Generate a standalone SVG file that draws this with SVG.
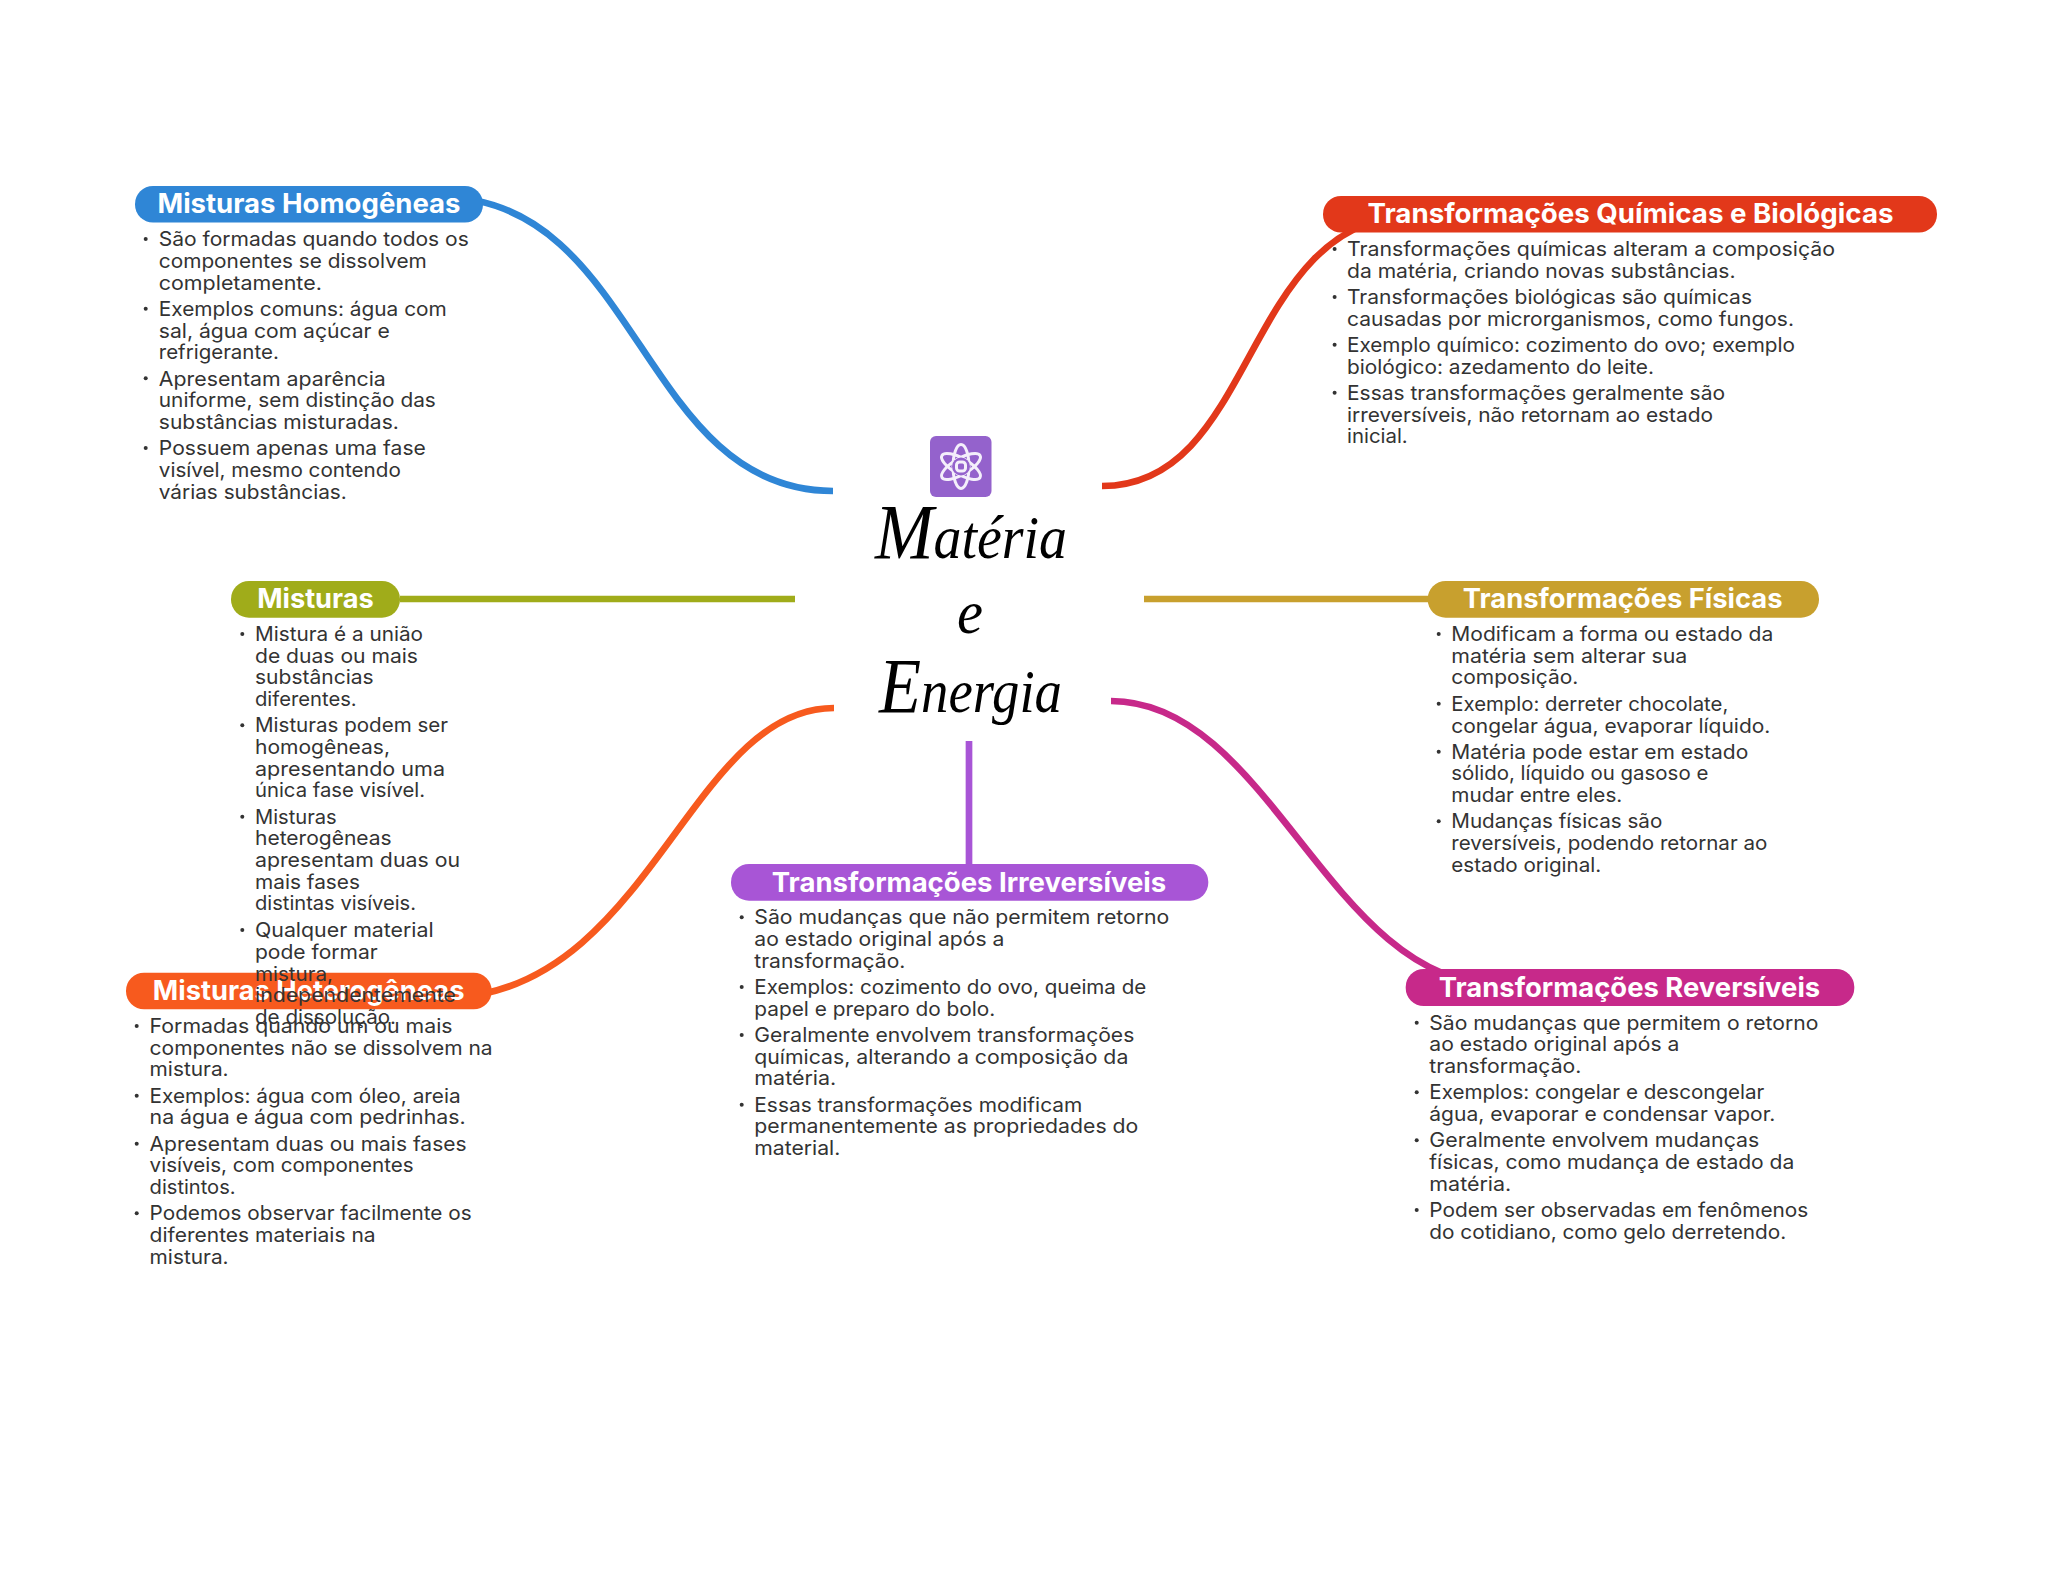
<svg xmlns="http://www.w3.org/2000/svg" width="2048" height="1569" viewBox="0 0 2048 1569">
<style>
.c{fill:none;stroke-width:6.7}
.t{font-family:"Inter","Liberation Sans",sans-serif;font-weight:700;font-size:27px;fill:#fff;transform:translate(-.5px,1px)}
.b{font-family:"Inter","Liberation Sans",sans-serif;font-weight:400;font-size:20px;fill:#333;transform:translate(-.7px,.3px)}
.d{fill:#333}
.s{font-family:"Liberation Serif",serif;font-style:italic;fill:#000}
.p{fill:none;stroke:#f4effb;stroke-width:3}
</style>
<rect width="2048" height="1569" fill="#fff"/>
<g id="connectors">
<path class="c" stroke="#2f86d6" d="M440,197 C640,197 640,491 833,491"/>
<path class="c" stroke="#e2381a" d="M1102,486 C1260,486 1240,214 1420,214"/>
<path class="c" stroke="#a0ac1a" d="M400,599 H795"/>
<path class="c" stroke="#c8a02e" d="M1144,599 H1430"/>
<path class="c" stroke="#a855d6" d="M969,741 V866"/>
<path class="c" stroke="#f75a1e" d="M834,708 C690,708 650,990 450,998"/>
<path class="c" stroke="#c7298a" d="M1111,701 C1270,701 1330,985 1500,985"/>
</g>
<g id="center">
<rect x="930" y="436" width="61.500" height="61" rx="6" fill="#9462cc"/>
<ellipse class="p" cx="961" cy="466.500" rx="8" ry="22"/>
<ellipse class="p" cx="961" cy="466.500" rx="8" ry="22" transform="rotate(60 961 466.500)"/>
<ellipse class="p" cx="961" cy="466.500" rx="8" ry="22" transform="rotate(120 961 466.500)"/>
<circle cx="961" cy="466.500" r="9" fill="#9462cc"/>
<rect class="p" x="956.500" y="462" width="9" height="9" rx="3"/>
<text class="s" x="875" y="558" textLength="192" lengthAdjust="spacingAndGlyphs" font-size="62"><tspan font-size="78">M</tspan>atéria</text>
<text class="s" x="957" y="633" textLength="26" lengthAdjust="spacingAndGlyphs" font-size="62">e</text>
<text class="s" x="879" y="712" textLength="183" lengthAdjust="spacingAndGlyphs" font-size="62"><tspan font-size="78">E</tspan>nergia</text>
</g>
<g id="homogeneas">
<rect x="135" y="186" width="348" height="36.500" rx="18" fill="#2f86d6"/>
<text class="t" x="158" y="212.300" textLength="303" lengthAdjust="spacingAndGlyphs">Misturas Homogêneas</text>
<circle class="d" cx="145.700" cy="239" r="2"/><circle class="d" cx="145.700" cy="308.700" r="2"/><circle class="d" cx="145.700" cy="378.300" r="2"/><circle class="d" cx="145.700" cy="448" r="2"/>
<text class="b" x="159.500" y="246" textLength="310" lengthAdjust="spacingAndGlyphs">São formadas quando todos os</text>
<text class="b" x="159.500" y="267.700" textLength="268" lengthAdjust="spacingAndGlyphs">componentes se dissolvem</text>
<text class="b" x="159.500" y="289.300" textLength="163" lengthAdjust="spacingAndGlyphs">completamente.</text>
<text class="b" x="159.500" y="315.700" textLength="288" lengthAdjust="spacingAndGlyphs">Exemplos comuns: água com</text>
<text class="b" x="159.500" y="337.300" textLength="231" lengthAdjust="spacingAndGlyphs">sal, água com açúcar e</text>
<text class="b" x="159.500" y="359" textLength="120" lengthAdjust="spacingAndGlyphs">refrigerante.</text>
<text class="b" x="159.500" y="385.300" textLength="227" lengthAdjust="spacingAndGlyphs">Apresentam aparência</text>
<text class="b" x="159.500" y="407" textLength="277" lengthAdjust="spacingAndGlyphs">uniforme, sem distinção das</text>
<text class="b" x="159.500" y="428.700" textLength="240" lengthAdjust="spacingAndGlyphs">substâncias misturadas.</text>
<text class="b" x="159.500" y="455" textLength="267" lengthAdjust="spacingAndGlyphs">Possuem apenas uma fase</text>
<text class="b" x="159.500" y="476.700" textLength="242" lengthAdjust="spacingAndGlyphs">visível, mesmo contendo</text>
<text class="b" x="159.500" y="498.300" textLength="188" lengthAdjust="spacingAndGlyphs">várias substâncias.</text>
</g>
<g id="quimicas">
<rect x="1323" y="196" width="614" height="36.500" rx="18" fill="#e2381a"/>
<text class="t" x="1368" y="222.300" textLength="526" lengthAdjust="spacingAndGlyphs">Transformações Químicas e Biológicas</text>
<circle class="d" cx="1334.600" cy="249" r="2"/><circle class="d" cx="1334.600" cy="297" r="2"/><circle class="d" cx="1334.600" cy="344.700" r="2"/><circle class="d" cx="1334.600" cy="392.700" r="2"/>
<text class="b" x="1347.700" y="256" textLength="488" lengthAdjust="spacingAndGlyphs">Transformações químicas alteram a composição</text>
<text class="b" x="1347.700" y="277.700" textLength="388.500" lengthAdjust="spacingAndGlyphs">da matéria, criando novas substâncias.</text>
<text class="b" x="1347.700" y="304" textLength="405" lengthAdjust="spacingAndGlyphs">Transformações biológicas são químicas</text>
<text class="b" x="1347.700" y="325.700" textLength="447" lengthAdjust="spacingAndGlyphs">causadas por microrganismos, como fungos.</text>
<text class="b" x="1347.700" y="351.700" textLength="448" lengthAdjust="spacingAndGlyphs">Exemplo químico: cozimento do ovo; exemplo</text>
<text class="b" x="1347.700" y="373.300" textLength="307" lengthAdjust="spacingAndGlyphs">biológico: azedamento do leite.</text>
<text class="b" x="1347.700" y="399.700" textLength="378" lengthAdjust="spacingAndGlyphs">Essas transformações geralmente são</text>
<text class="b" x="1347.700" y="421.300" textLength="366" lengthAdjust="spacingAndGlyphs">irreversíveis, não retornam ao estado</text>
<text class="b" x="1347.700" y="443" textLength="60.700" lengthAdjust="spacingAndGlyphs">inicial.</text>
</g>
<g id="fisicas">
<rect x="1427.700" y="581" width="391.300" height="36.700" rx="18" fill="#c8a02e"/>
<text class="t" x="1463.300" y="607.300" textLength="319.700" lengthAdjust="spacingAndGlyphs">Transformações Físicas</text>
<circle class="d" cx="1438.700" cy="634" r="2"/><circle class="d" cx="1438.700" cy="703.700" r="2"/><circle class="d" cx="1438.700" cy="751.700" r="2"/><circle class="d" cx="1438.700" cy="821.300" r="2"/>
<text class="b" x="1452" y="640.700" textLength="322" lengthAdjust="spacingAndGlyphs">Modificam a forma ou estado da</text>
<text class="b" x="1452" y="662.300" textLength="236" lengthAdjust="spacingAndGlyphs">matéria sem alterar sua</text>
<text class="b" x="1452" y="684" textLength="127" lengthAdjust="spacingAndGlyphs">composição.</text>
<text class="b" x="1452" y="710.300" textLength="277" lengthAdjust="spacingAndGlyphs">Exemplo: derreter chocolate,</text>
<text class="b" x="1452" y="732.300" textLength="319" lengthAdjust="spacingAndGlyphs">congelar água, evaporar líquido.</text>
<text class="b" x="1452" y="758.300" textLength="297" lengthAdjust="spacingAndGlyphs">Matéria pode estar em estado</text>
<text class="b" x="1452" y="780" textLength="257" lengthAdjust="spacingAndGlyphs">sólido, líquido ou gasoso e</text>
<text class="b" x="1452" y="801.700" textLength="171" lengthAdjust="spacingAndGlyphs">mudar entre eles.</text>
<text class="b" x="1452" y="828" textLength="211" lengthAdjust="spacingAndGlyphs">Mudanças físicas são</text>
<text class="b" x="1452" y="850" textLength="316" lengthAdjust="spacingAndGlyphs">reversíveis, podendo retornar ao</text>
<text class="b" x="1452" y="871.700" textLength="150" lengthAdjust="spacingAndGlyphs">estado original.</text>
</g>
<g id="reversiveis">
<rect x="1405.700" y="969" width="448.600" height="37" rx="18" fill="#c7298a"/>
<text class="t" x="1439.300" y="995.700" textLength="381.400" lengthAdjust="spacingAndGlyphs">Transformações Reversíveis</text>
<circle class="d" cx="1416.700" cy="1022.700" r="2"/><circle class="d" cx="1416.700" cy="1092.300" r="2"/><circle class="d" cx="1416.700" cy="1140.300" r="2"/><circle class="d" cx="1416.700" cy="1210" r="2"/>
<text class="b" x="1430" y="1029.300" textLength="389" lengthAdjust="spacingAndGlyphs">São mudanças que permitem o retorno</text>
<text class="b" x="1430" y="1051" textLength="250" lengthAdjust="spacingAndGlyphs">ao estado original após a</text>
<text class="b" x="1430" y="1072.700" textLength="152" lengthAdjust="spacingAndGlyphs">transformação.</text>
<text class="b" x="1430" y="1099" textLength="335" lengthAdjust="spacingAndGlyphs">Exemplos: congelar e descongelar</text>
<text class="b" x="1430" y="1120.700" textLength="346" lengthAdjust="spacingAndGlyphs">água, evaporar e condensar vapor.</text>
<text class="b" x="1430" y="1147" textLength="330" lengthAdjust="spacingAndGlyphs">Geralmente envolvem mudanças</text>
<text class="b" x="1430" y="1168.700" textLength="365" lengthAdjust="spacingAndGlyphs">físicas, como mudança de estado da</text>
<text class="b" x="1430" y="1190.300" textLength="82" lengthAdjust="spacingAndGlyphs">matéria.</text>
<text class="b" x="1430" y="1216.700" textLength="379" lengthAdjust="spacingAndGlyphs">Podem ser observadas em fenômenos</text>
<text class="b" x="1430" y="1238.300" textLength="357" lengthAdjust="spacingAndGlyphs">do cotidiano, como gelo derretendo.</text>
</g>
<g id="irreversiveis">
<rect x="731" y="864" width="477.300" height="36.700" rx="18" fill="#a855d6"/>
<text class="t" x="772.300" y="890.700" textLength="394.400" lengthAdjust="spacingAndGlyphs">Transformações Irreversíveis</text>
<circle class="d" cx="741.700" cy="917.300" r="2"/><circle class="d" cx="741.700" cy="987" r="2"/><circle class="d" cx="741.700" cy="1035" r="2"/><circle class="d" cx="741.700" cy="1104.700" r="2"/>
<text class="b" x="755" y="924" textLength="415" lengthAdjust="spacingAndGlyphs">São mudanças que não permitem retorno</text>
<text class="b" x="755" y="945.700" textLength="250" lengthAdjust="spacingAndGlyphs">ao estado original após a</text>
<text class="b" x="755" y="967.300" textLength="151" lengthAdjust="spacingAndGlyphs">transformação.</text>
<text class="b" x="755" y="993.700" textLength="392" lengthAdjust="spacingAndGlyphs">Exemplos: cozimento do ovo, queima de</text>
<text class="b" x="755" y="1015.300" textLength="241" lengthAdjust="spacingAndGlyphs">papel e preparo do bolo.</text>
<text class="b" x="755" y="1041.700" textLength="380" lengthAdjust="spacingAndGlyphs">Geralmente envolvem transformações</text>
<text class="b" x="755" y="1063.300" textLength="374" lengthAdjust="spacingAndGlyphs">químicas, alterando a composição da</text>
<text class="b" x="755" y="1085" textLength="82" lengthAdjust="spacingAndGlyphs">matéria.</text>
<text class="b" x="755" y="1111.300" textLength="328" lengthAdjust="spacingAndGlyphs">Essas transformações modificam</text>
<text class="b" x="755" y="1133" textLength="384" lengthAdjust="spacingAndGlyphs">permanentemente as propriedades do</text>
<text class="b" x="755" y="1154.700" textLength="86" lengthAdjust="spacingAndGlyphs">material.</text>
</g>
<g id="heterogeneas">
<rect x="126" y="972.700" width="365.700" height="36.600" rx="18" fill="#f75a1e"/>
<text class="t" x="153.300" y="999.300" textLength="311.700" lengthAdjust="spacingAndGlyphs">Misturas Heterogêneas</text>
<circle class="d" cx="136.700" cy="1026" r="2"/><circle class="d" cx="136.700" cy="1095.700" r="2"/><circle class="d" cx="136.700" cy="1143.700" r="2"/><circle class="d" cx="136.700" cy="1213.300" r="2"/>
<text class="b" x="150.300" y="1032.700" textLength="303" lengthAdjust="spacingAndGlyphs">Formadas quando um ou mais</text>
<text class="b" x="150.300" y="1054.300" textLength="343" lengthAdjust="spacingAndGlyphs">componentes não se dissolvem na</text>
<text class="b" x="150.300" y="1076" textLength="79" lengthAdjust="spacingAndGlyphs">mistura.</text>
<text class="b" x="150.300" y="1102.300" textLength="311" lengthAdjust="spacingAndGlyphs">Exemplos: água com óleo, areia</text>
<text class="b" x="150.300" y="1124" textLength="316" lengthAdjust="spacingAndGlyphs">na água e água com pedrinhas.</text>
<text class="b" x="150.300" y="1150.300" textLength="317" lengthAdjust="spacingAndGlyphs">Apresentam duas ou mais fases</text>
<text class="b" x="150.300" y="1172" textLength="264" lengthAdjust="spacingAndGlyphs">visíveis, com componentes</text>
<text class="b" x="150.300" y="1193.700" textLength="86" lengthAdjust="spacingAndGlyphs">distintos.</text>
<text class="b" x="150.300" y="1220" textLength="322" lengthAdjust="spacingAndGlyphs">Podemos observar facilmente os</text>
<text class="b" x="150.300" y="1241.700" textLength="226" lengthAdjust="spacingAndGlyphs">diferentes materiais na</text>
<text class="b" x="150.300" y="1263.300" textLength="79" lengthAdjust="spacingAndGlyphs">mistura.</text>
</g>
<g id="misturas">
<rect x="231" y="581" width="169" height="36.700" rx="18" fill="#a0ac1a"/>
<text class="t" x="257.700" y="607.300" textLength="116.600" lengthAdjust="spacingAndGlyphs">Misturas</text>
<circle class="d" cx="242.300" cy="634" r="2"/><circle class="d" cx="242.300" cy="725.300" r="2"/><circle class="d" cx="242.300" cy="816.700" r="2"/><circle class="d" cx="242.300" cy="930" r="2"/>
<text class="b" x="255.700" y="640.700" textLength="168" lengthAdjust="spacingAndGlyphs">Mistura é a união</text>
<text class="b" x="255.700" y="662.300" textLength="163" lengthAdjust="spacingAndGlyphs">de duas ou mais</text>
<text class="b" x="255.700" y="684" textLength="118.700" lengthAdjust="spacingAndGlyphs">substâncias</text>
<text class="b" x="255.700" y="705.700" textLength="101.700" lengthAdjust="spacingAndGlyphs">diferentes.</text>
<text class="b" x="255.700" y="732" textLength="193" lengthAdjust="spacingAndGlyphs">Misturas podem ser</text>
<text class="b" x="255.700" y="753.700" textLength="135" lengthAdjust="spacingAndGlyphs">homogêneas,</text>
<text class="b" x="255.700" y="775.300" textLength="190" lengthAdjust="spacingAndGlyphs">apresentando uma</text>
<text class="b" x="255.700" y="797" textLength="170" lengthAdjust="spacingAndGlyphs">única fase visível.</text>
<text class="b" x="255.700" y="823.300" textLength="81.700" lengthAdjust="spacingAndGlyphs">Misturas</text>
<text class="b" x="255.700" y="845" textLength="136.700" lengthAdjust="spacingAndGlyphs">heterogêneas</text>
<text class="b" x="255.700" y="866.700" textLength="205" lengthAdjust="spacingAndGlyphs">apresentam duas ou</text>
<text class="b" x="255.700" y="888.300" textLength="105" lengthAdjust="spacingAndGlyphs">mais fases</text>
<text class="b" x="255.700" y="910" textLength="161" lengthAdjust="spacingAndGlyphs">distintas visíveis.</text>
<text class="b" x="255.700" y="936.700" textLength="178.700" lengthAdjust="spacingAndGlyphs">Qualquer material</text>
<text class="b" x="255.700" y="958.700" textLength="122.700" lengthAdjust="spacingAndGlyphs">pode formar</text>
<text class="b" x="255.700" y="980.300" textLength="78" lengthAdjust="spacingAndGlyphs">mistura,</text>
<text class="b" x="255.700" y="1002" textLength="201" lengthAdjust="spacingAndGlyphs">independentemente</text>
<text class="b" x="255.700" y="1023.700" textLength="141" lengthAdjust="spacingAndGlyphs">de dissolução.</text>
</g>
</svg>
